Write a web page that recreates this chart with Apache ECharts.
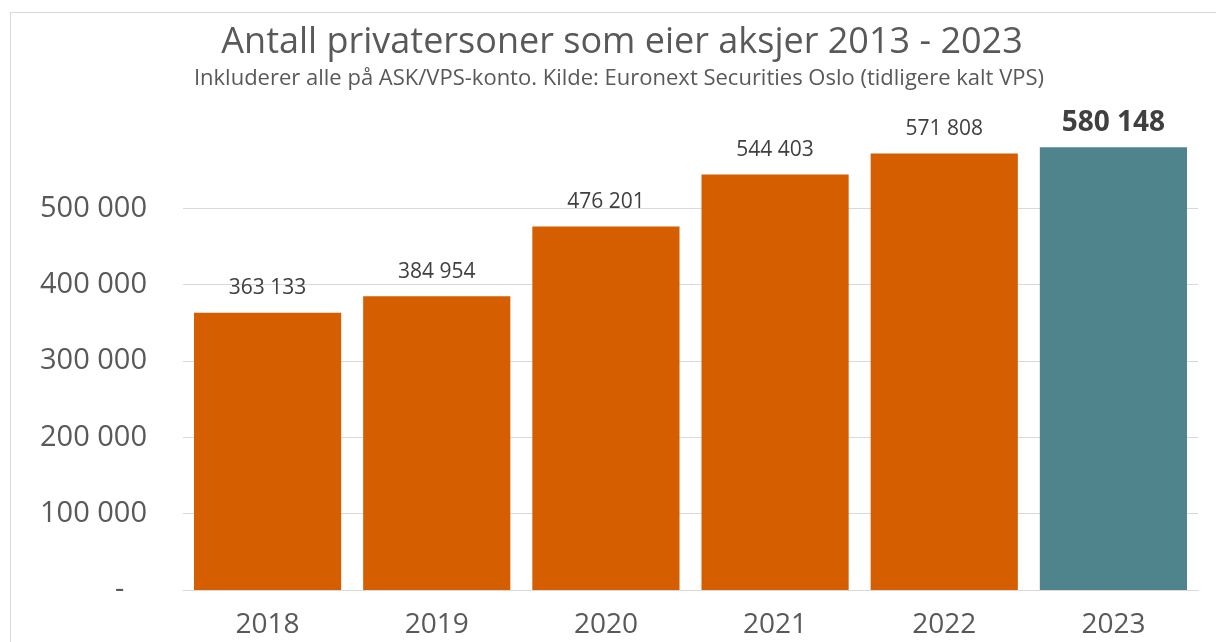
<!DOCTYPE html>
<html>
<head>
<meta charset="utf-8">
<script src="https://cdn.jsdelivr.net/npm/echarts@6/dist/echarts.min.js"></script>
<style>
  html, body { margin: 0; padding: 0; background: #fff; }
  #frame {
    position: absolute; left: 10px; top: 12px; width: 1216px; height: 640px;
    border-left: 1px solid #d9d9d9; border-top: 1px solid #d9d9d9;
  }
  #main { position: absolute; left: 0; top: 0; width: 1216px; height: 642px; }
</style>
</head>
<body>
<div id="frame"></div>
<div id="main"></div>
<script>
  const years = ['2018', '2019', '2020', '2021', '2022', '2023']
  const owners = [363133, 384954, 476201, 544403, 571808, 580148]
  const yTicks = [0, 100000, 200000, 300000, 400000, 500000, 600000]

  const orange = '#D45E00'
  const teal = '#4F848C'
  const font = '"Open Sans", Lato, sans-serif'

  // mellomrom som tusenskilletegn
  const fmt = (v) => String(v).replace(/\B(?=(\d{3})+(?!\d))/g, ' ')

  const lastIdx = years.length - 1
  const barData = owners.map((v, i) => {
    if (i !== lastIdx) return v
    return {
      value: v,
      itemStyle: { color: teal },
      label: { fontSize: 28, fontWeight: 'bold', color: '#404040', distance: 10 },
    }
  })

  const chart = echarts.init(document.getElementById('main'))
  const option = {
    animation: false,
    title: [
      {
        text: 'Antall privatersoner som eier aksjer 2013 - 2023',
        left: 617,
        textAlign: 'center',
        top: 20,
        textStyle: { fontFamily: font, fontSize: 36, fontWeight: 'normal', color: '#595959' },
      },
      {
        text: 'Inkluderer alle på ASK/VPS-konto. Kilde: Euronext Securities Oslo (tidligere kalt VPS)',
        left: 614,
        textAlign: 'center',
        top: 63,
        textStyle: { fontFamily: font, fontSize: 22, fontWeight: 'normal', color: '#595959' },
      },
    ],
    grid: { left: 183, right: 18, top: 132, bottom: 52 },
    xAxis: {
      type: 'category',
      data: years,
      axisLine: { show: true, lineStyle: { color: '#d9d9d9', width: 1 } },
      axisTick: { show: false },
      axisLabel: { fontFamily: font, fontSize: 28, color: '#595959', margin: 21 },
    },
    yAxis: {
      type: 'value',
      min: yTicks[0],
      max: yTicks[yTicks.length - 1],
      interval: 100000,
      axisLine: { show: false },
      axisTick: { show: false },
      splitLine: { show: true, showMaxLine: false, lineStyle: { color: '#d9d9d9', width: 1 } },
      axisLabel: {
        showMaxLabel: false,
        fontFamily: font,
        fontSize: 29,
        color: '#595959',
        margin: 36,
        // null vises som strek, litt inn fra høyre som i Excel
        formatter: (v) => (v === 0 ? '-   ' : fmt(v)),
      },
    },
    series: [
      {
        type: 'bar',
        data: barData,
        barCategoryGap: '13%',
        itemStyle: { color: orange },
        label: {
          show: true,
          position: 'top',
          distance: 14,
          fontFamily: font,
          fontSize: 21,
          color: '#404040',
          formatter: (p) => fmt(p.value),
        },
      },
    ],
  }
  chart.setOption(option)
</script>
</body>
</html>
